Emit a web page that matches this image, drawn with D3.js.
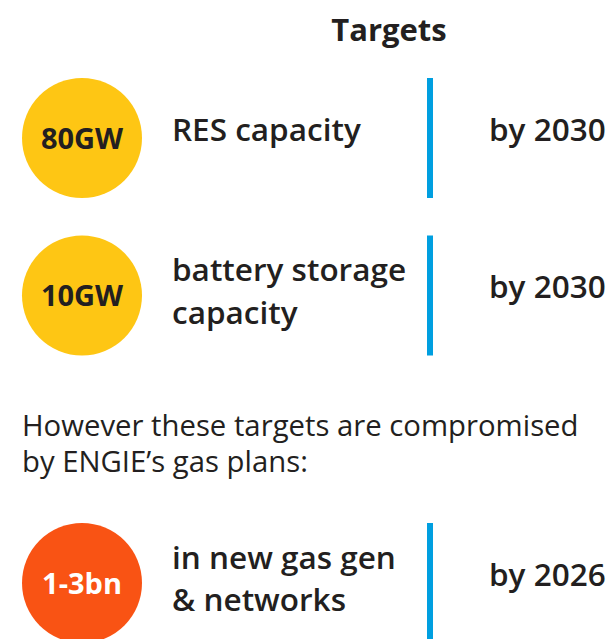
<!DOCTYPE html>
<html><head><meta charset="utf-8">
<script src="https://cdn.jsdelivr.net/npm/d3@7"></script>
<style>
html,body{margin:0;padding:0;background:#fff;}
svg{display:block;font-family:"Open Sans",sans-serif;}
</style></head>
<body><svg id="c" width="609" height="639"></svg>
<script>
const title = "Targets";
const badges = ["80GW", "10GW", "1-3bn"];
const labels = [["RES capacity"], ["battery storage", "capacity"], ["in new gas gen", "& networks"]];
const years = ["by 2030", "by 2030", "by 2026"];
const badgeColors = ["#FEC614", "#FEC614", "#F95314"];
const badgeTextColors = ["#231F20", "#231F20", "#FFFFFF"];
const rowCenters = [138, 295.5, 583];
const noteLines = ["However these targets are compromised", "by ENGIE\u2019s gas plans:"];

const svg = d3.select("#c");
const ink = "#231F20";
const blue = "#009FE0";
const R = 60;

svg.append("text").attr("x", 389).attr("y", 41).attr("text-anchor", "middle")
  .attr("font-size", 31).attr("font-weight", 700).attr("fill", ink).text(title);

const rows = svg.selectAll("g.row").data(badges.map((b, i) => ({b, i})))
  .join("g").attr("class", "row").attr("transform", d => `translate(0,${rowCenters[d.i]})`);

rows.append("circle").attr("cx", 82).attr("cy", 0).attr("r", R)
  .attr("fill", d => badgeColors[d.i]);
rows.append("text").attr("x", 82).attr("y", 10.5).attr("text-anchor", "middle")
  .attr("font-size", 29).attr("font-weight", 700)
  .attr("fill", d => badgeTextColors[d.i]).text(d => d.b);

rows.append("rect").attr("x", 427).attr("y", -R).attr("width", 6).attr("height", 2 * R)
  .attr("fill", blue);

rows.each(function(d) {
  const g = d3.select(this);
  const ls = labels[d.i];
  const offs = ls.length > 1 ? [-14.5, 28] : [3];
  const t = g.append("text").attr("font-size", 31.5).attr("font-weight", 600).attr("fill", ink);
  ls.forEach((s, k) => {
    t.append("tspan").attr("x", 172).attr("y", offs[k]).text(s);
  });
  g.append("text").attr("x", 489).attr("y", 2.5)
    .attr("font-size", 31.5).attr("font-weight", 600).attr("fill", ink)
    .text(years[d.i]);
});

const note = svg.append("text").attr("font-size", 29.3).attr("font-weight", 400).attr("fill", ink);
note.selectAll("tspan").data(noteLines).join("tspan")
  .attr("x", 22).attr("y", (d, i) => 435.7 + i * 36).text(d => d);
</script></body></html>
